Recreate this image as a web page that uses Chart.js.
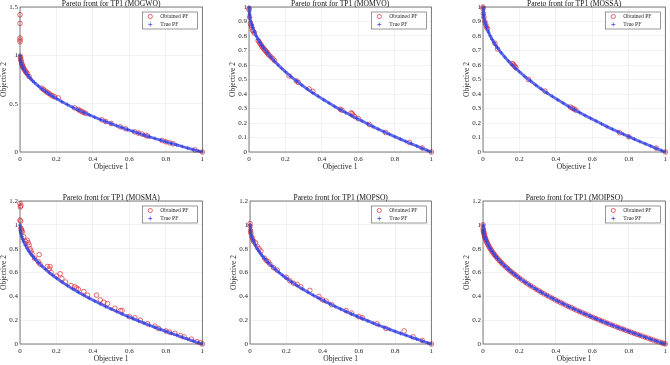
<!DOCTYPE html>
<html>
<head>
<meta charset="utf-8">
<script src="https://cdn.jsdelivr.net/npm/chart.js@4.4.0/dist/chart.umd.min.js"></script>
<style>
  html, body { margin: 0; padding: 0; background: #fff; }
  body { width: 670px; height: 365px; position: relative; overflow: hidden; }
  canvas { position: absolute; }
</style>
</head>
<body>
<canvas id="c0"></canvas>
<canvas id="c1"></canvas>
<canvas id="c2"></canvas>
<canvas id="c3"></canvas>
<canvas id="c4"></canvas>
<canvas id="c5"></canvas>
<script>
// True Pareto front (same in every panel)
const trueX = [0, 0.0025, 0.005, 0.01, 0.015, 0.02, 0.03, 0.04, 0.05, 0.06, 0.07, 0.08, 0.1, 0.12, 0.14,
  0.16, 0.18, 0.2, 0.23, 0.26, 0.29, 0.32, 0.35, 0.38, 0.41, 0.44, 0.47, 0.5, 0.53, 0.56, 0.59, 0.62,
  0.65, 0.68, 0.71, 0.74, 0.77, 0.8, 0.83, 0.86, 0.89, 0.92, 0.95, 0.98, 1];
const trueY = [1, 0.95, 0.929, 0.9, 0.878, 0.859, 0.827, 0.8, 0.776, 0.755, 0.735, 0.717, 0.684, 0.654, 0.626,
  0.6, 0.576, 0.553, 0.52, 0.49, 0.461, 0.434, 0.408, 0.384, 0.36, 0.337, 0.314, 0.293, 0.272, 0.252, 0.232, 0.213,
  0.194, 0.175, 0.157, 0.14, 0.123, 0.106, 0.089, 0.073, 0.057, 0.041, 0.025, 0.01, 0];

// Obtained fronts
const mogwoX = [0, 0, 0, 0, 0, 0.002, 0.003, 0.005, 0.008, 0.01, 0.012, 0.015, 0.018, 0.02, 0.025, 0.03, 0.035,
  0.04, 0.05, 0.12, 0.13, 0.14, 0.15, 0.16, 0.17, 0.18, 0.19, 0.21, 0.3, 0.32, 0.33, 0.34, 0.35, 0.36, 0.45, 0.47,
  0.5, 0.55, 0.58, 0.63, 0.65, 0.67, 0.69, 0.7, 0.78, 0.8, 0.82, 0.84, 0.96, 1];
const mogwoY = [1.42, 1.33, 1.18, 1.16, 1.14, 0.99, 0.97, 0.95, 0.93, 0.91, 0.9, 0.885, 0.875, 0.865, 0.85, 0.835,
  0.822, 0.81, 0.78, 0.66, 0.645, 0.63, 0.615, 0.605, 0.59, 0.58, 0.57, 0.56, 0.456, 0.438, 0.428, 0.418, 0.408,
  0.4, 0.332, 0.315, 0.295, 0.26, 0.24, 0.208, 0.195, 0.185, 0.172, 0.165, 0.118, 0.106, 0.095, 0.085, 0.02, 0];

const momvoX = [0, 0, 0.003, 0.008, 0.012, 0.015, 0.02, 0.025, 0.03, 0.05, 0.055, 0.06, 0.065, 0.07, 0.075,
  0.08, 0.085, 0.09, 0.095, 0.1, 0.105, 0.11, 0.12, 0.13, 0.14, 0.22, 0.26, 0.27, 0.33, 0.35, 0.5, 0.51, 0.56,
  0.565, 0.57, 0.58, 0.6, 0.66, 0.75, 0.88, 0.95, 1];
const momvoY = [0.99, 0.98, 0.93, 0.885, 0.875, 0.86, 0.84, 0.83, 0.82, 0.77, 0.76, 0.75, 0.74, 0.73, 0.72,
  0.715, 0.705, 0.7, 0.69, 0.685, 0.675, 0.668, 0.655, 0.645, 0.63, 0.525, 0.49, 0.48, 0.435, 0.418, 0.295, 0.288, 0.27,
  0.265, 0.255, 0.245, 0.23, 0.19, 0.135, 0.065, 0.028, 0];

const mossaX = [0, 0, 0.002, 0.005, 0.01, 0.015, 0.02, 0.025, 0.065, 0.08, 0.16, 0.165, 0.17, 0.175, 0.18,
  0.25, 0.34, 0.48, 0.49, 0.5, 0.51, 0.75, 0.8, 0.95, 1];
const mossaY = [1, 0.99, 0.955, 0.93, 0.9, 0.88, 0.86, 0.85, 0.75, 0.71, 0.61, 0.605, 0.598, 0.59, 0.582,
  0.5, 0.42, 0.31, 0.302, 0.296, 0.288, 0.133, 0.105, 0.027, 0];

const mosmaX = [0, 0.005, 0.002, 0, 0.003, 0.005, 0.008, 0.01, 0.012, 0.02, 0.03, 0.04, 0.045, 0.05, 0.055,
  0.06, 0.065, 0.08, 0.1, 0.105, 0.11, 0.15, 0.16, 0.165, 0.17, 0.2, 0.22, 0.23, 0.25, 0.28, 0.3, 0.31, 0.32,
  0.35, 0.37, 0.42, 0.44, 0.46, 0.48, 0.52, 0.55, 0.56, 0.6, 0.63, 0.66, 0.7, 0.74, 0.76, 0.8, 0.82, 0.85,
  0.88, 0.9, 0.94, 0.97, 0.99, 1];
const mosmaY = [1.18, 1.16, 1.15, 1.04, 1.03, 0.97, 0.96, 0.95, 0.94, 0.9, 0.86, 0.87, 0.85, 0.83, 0.8,
  0.78, 0.76, 0.72, 0.69, 0.75, 0.67, 0.65, 0.63, 0.65, 0.6, 0.57, 0.59, 0.55, 0.52, 0.49, 0.48, 0.47, 0.46,
  0.44, 0.41, 0.41, 0.37, 0.35, 0.34, 0.3, 0.28, 0.28, 0.23, 0.22, 0.2, 0.17, 0.15, 0.13, 0.11, 0.1, 0.09,
  0.07, 0.06, 0.04, 0.02, 0.01, 0];

const mopsoX = [0, 0, 0.003, 0.005, 0.01, 0.015, 0.02, 0.03, 0.04, 0.05, 0.06, 0.08, 0.09, 0.1, 0.11, 0.13,
  0.15, 0.2, 0.22, 0.24, 0.26, 0.28, 0.33, 0.38, 0.4, 0.42, 0.45, 0.53, 0.56, 0.6, 0.62, 0.7, 0.75, 0.85, 0.9,
  0.95, 1];
const mopsoY = [1.01, 0.99, 0.95, 0.93, 0.9, 0.88, 0.86, 0.85, 0.82, 0.8, 0.78, 0.72, 0.7, 0.69, 0.67, 0.64,
  0.62, 0.56, 0.53, 0.51, 0.5, 0.48, 0.45, 0.4, 0.37, 0.36, 0.33, 0.28, 0.26, 0.23, 0.22, 0.17, 0.13, 0.11, 0.06,
  0.03, 0];

const moipsoX = [0, 0.001, 0.002, 0.003, 0.004, 0.005, 0.007, 0.009, 0.011, 0.013, 0.016, 0.019, 0.022, 0.026,
  0.03, 0.035, 0.04, 0.045, 0.05, 0.056, 0.062, 0.068, 0.075, 0.082, 0.09, 0.098, 0.106, 0.115, 0.125, 0.135,
  0.145, 0.155, 0.165, 0.175, 0.186, 0.2, 0.215, 0.23, 0.245, 0.26, 0.275, 0.29, 0.305, 0.32, 0.335, 0.35, 0.365,
  0.38, 0.395, 0.41, 0.425, 0.44, 0.455, 0.47, 0.485, 0.5, 0.515, 0.53, 0.545, 0.56, 0.575, 0.59, 0.605, 0.62,
  0.635, 0.65, 0.665, 0.68, 0.695, 0.71, 0.725, 0.74, 0.755, 0.77, 0.785, 0.8, 0.815, 0.83, 0.845, 0.86, 0.875,
  0.89, 0.905, 0.92, 0.935, 0.95, 0.965, 0.98, 0.99, 1];
const moipsoY = [1.0, 0.968, 0.955, 0.945, 0.937, 0.929, 0.916, 0.905, 0.895, 0.886, 0.874, 0.862, 0.852, 0.839,
  0.827, 0.813, 0.8, 0.788, 0.776, 0.763, 0.751, 0.739, 0.726, 0.714, 0.7, 0.687, 0.674, 0.661, 0.646, 0.633,
  0.619, 0.606, 0.594, 0.582, 0.569, 0.553, 0.536, 0.52, 0.505, 0.49, 0.476, 0.461, 0.448, 0.434, 0.421, 0.408, 0.396,
  0.384, 0.372, 0.36, 0.348, 0.337, 0.325, 0.314, 0.304, 0.293, 0.282, 0.272, 0.262, 0.252, 0.242, 0.232, 0.222, 0.213,
  0.203, 0.194, 0.185, 0.175, 0.166, 0.157, 0.149, 0.14, 0.131, 0.123, 0.114, 0.106, 0.097, 0.089, 0.081, 0.073, 0.065,
  0.057, 0.049, 0.041, 0.033, 0.025, 0.018, 0.01, 0.005, 0];

const names = ['MOGWO', 'MOMVO', 'MOSSA', 'MOSMA', 'MOPSO', 'MOIPSO'];
const obtainedX = [mogwoX, momvoX, mossaX, mosmaX, mopsoX, moipsoX];
const obtainedY = [mogwoY, momvoY, mossaY, mosmaY, mopsoY, moipsoY];
const yMax = [1.5, 1, 1, 1.2, 1.2, 1.2];
const yStep = [0.5, 0.1, 0.1, 0.2, 0.2, 0.2];

// plot-area boxes in page pixels
const boxes = [
  { l: 20, t: 7, r: 204, b: 152 },
  { l: 249, t: 7, r: 433, b: 152 },
  { l: 483, t: 7, r: 667, b: 152 },
  { l: 20, t: 201, r: 204, b: 344 },
  { l: 250, t: 201, r: 433, b: 344 },
  { l: 483, t: 201, r: 667, b: 344 },
];

const RED = '#e0262e';
const BLUE = '#2e3ee8';
const BAND = 'rgba(70, 80, 225, 0.85)';
const TXT = '#262626';
const SERIF = '"Liberation Serif", "Times New Roman", serif';
const Y_AXIS_W = 20;
const X_AXIS_H = 20;
const PAD_R = 3;

const zip = (xs, ys) => xs.map((x, i) => ({ x, y: ys[i] }));
const fmt = (v) => String(+v.toFixed(2));

const framePlugin = {
  id: 'frame',
  afterDraw(chart) {
    const { ctx, chartArea: a } = chart;
    const name = chart.options.plugins.frame.name;
    ctx.save();
    // axes box
    ctx.strokeStyle = '#444';
    ctx.lineWidth = 0.7;
    ctx.strokeRect(a.left, a.top, a.right - a.left, a.bottom - a.top);
    // title
    ctx.fillStyle = '#111';
    ctx.font = '7.6px ' + SERIF;
    ctx.textAlign = 'center';
    ctx.textBaseline = 'alphabetic';
    ctx.fillText('Pareto front for TP1 (' + name + ')', (a.left + a.right) / 2, a.top - 1.2);
    // legend
    const w = 55, h = 17;
    const lx = a.right - 5 - w, ly = a.top + 5;
    ctx.fillStyle = '#fff';
    ctx.fillRect(lx, ly, w, h);
    ctx.strokeStyle = '#555';
    ctx.lineWidth = 0.6;
    ctx.strokeRect(lx, ly, w, h);
    ctx.beginPath();
    ctx.strokeStyle = RED;
    ctx.lineWidth = 0.7;
    ctx.arc(lx + 8, ly + 4.5, 2.1, 0, Math.PI * 2);
    ctx.stroke();
    ctx.beginPath();
    ctx.strokeStyle = BLUE;
    ctx.moveTo(lx + 6, ly + 12.5); ctx.lineTo(lx + 10, ly + 12.5);
    ctx.moveTo(lx + 8, ly + 10.5); ctx.lineTo(lx + 8, ly + 14.5);
    ctx.stroke();
    ctx.fillStyle = TXT;
    ctx.font = '5.6px ' + SERIF;
    ctx.textAlign = 'left';
    ctx.textBaseline = 'middle';
    ctx.fillText('Obtained PF', lx + 18, ly + 4.7);
    ctx.fillText('True PF', lx + 18, ly + 12.7);
    ctx.restore();
  },
};

boxes.forEach((bx, i) => {
  const titleH = i < 3 ? 7 : 10;
  const canvas = document.getElementById('c' + i);
  const width = Y_AXIS_W + (bx.r - bx.l) + PAD_R;
  const height = titleH + (bx.b - bx.t) + X_AXIS_H;
  canvas.width = width;
  canvas.height = height;
  canvas.style.left = (bx.l - Y_AXIS_W) + 'px';
  canvas.style.top = (bx.t - titleH) + 'px';

  const tickFont = { family: SERIF, size: 7 };
  const labelFont = { family: SERIF, size: 7.5 };
  const gridCfg = { color: 'rgba(0,0,0,0.09)', lineWidth: 0.6, drawTicks: false };

  new Chart(canvas, {
    type: 'scatter',
    data: {
      datasets: [
        {
          label: 'Obtained PF',
          data: zip(obtainedX[i], obtainedY[i]),
          pointStyle: 'circle',
          pointRadius: 2.3,
          borderColor: RED,
          backgroundColor: 'rgba(0,0,0,0)',
          borderWidth: 0.7,
          clip: false,
          order: 2,
        },
        {
          label: 'True PF',
          data: zip(trueX, trueY),
          showLine: true,
          tension: 0,
          borderColor: BAND,
          backgroundColor: BLUE,
          borderWidth: 2.8,
          pointStyle: 'cross',
          pointRadius: 2,
          pointBorderColor: BLUE,
          pointBorderWidth: 0.7,
          clip: false,
          order: 1,
        },
      ],
    },
    options: {
      responsive: false,
      animation: false,
      events: [],
      layout: { padding: { top: titleH, right: PAD_R, left: 0, bottom: 0 } },
      plugins: {
        legend: { display: false },
        tooltip: { enabled: false },
        frame: { name: names[i] },
      },
      scales: {
        x: {
          type: 'linear',
          min: 0,
          max: 1,
          ticks: { stepSize: 0.2, font: tickFont, color: TXT, padding: 3, maxRotation: 0, autoSkip: false, callback: fmt },
          grid: gridCfg,
          border: { display: false },
          title: { display: true, text: 'Objective 1', font: labelFont, color: TXT, padding: { top: 0, bottom: 0 } },
          afterFit(s) { s.height = X_AXIS_H; s.paddingLeft = 0; s.paddingRight = 0; },
        },
        y: {
          type: 'linear',
          min: 0,
          max: yMax[i],
          ticks: { stepSize: yStep[i], font: tickFont, color: TXT, padding: 2, autoSkip: false, callback: fmt },
          grid: gridCfg,
          border: { display: false },
          title: { display: true, text: 'Objective 2', font: labelFont, color: TXT, padding: { top: 0, bottom: 0 } },
          afterFit(s) { s.width = Y_AXIS_W; s.paddingTop = 0; s.paddingBottom = 0; },
        },
      },
    },
    plugins: [framePlugin],
  });
});
</script>
</body>
</html>
